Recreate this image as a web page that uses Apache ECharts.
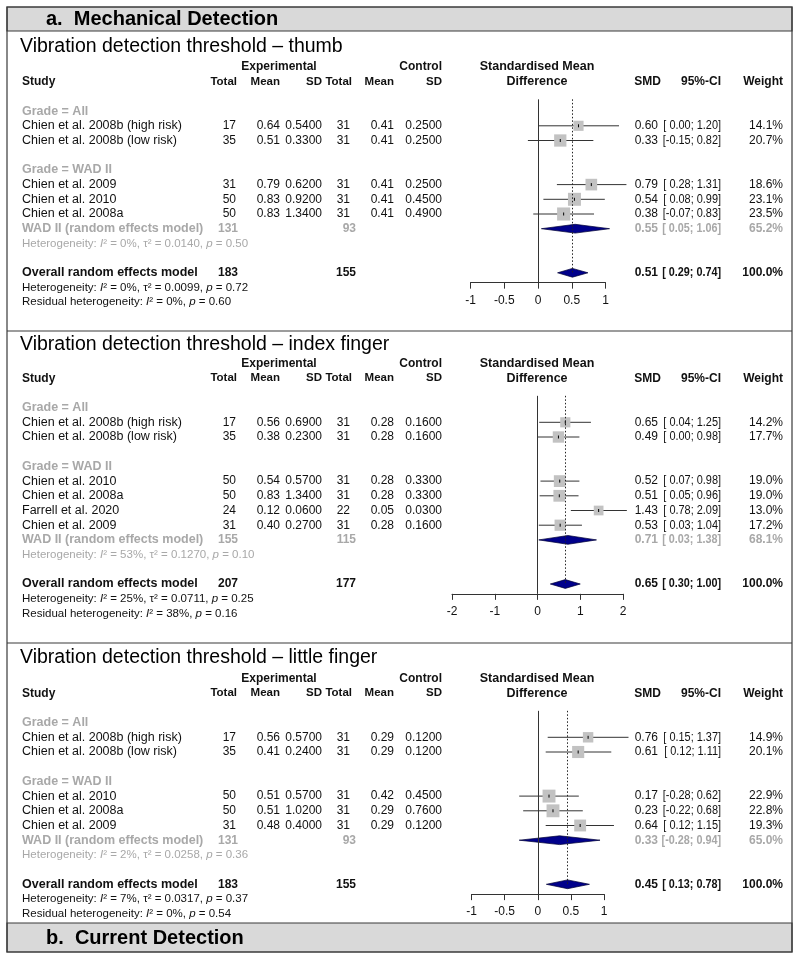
<!DOCTYPE html>
<html><head><meta charset="utf-8">
<script src="https://cdn.jsdelivr.net/npm/echarts@6/dist/echarts.min.js"></script>
<style>html,body{margin:0;padding:0;background:#fff}#c{width:800px;height:960px}</style>
</head><body><div id="c"></div>
<script>
// ---------------- DATA ----------------
const figureHeaders = ['a.  Mechanical Detection', 'b.  Current Detection'];
const panelTitles = ['Vibration detection threshold \u2013 thumb', 'Vibration detection threshold \u2013 index finger', 'Vibration detection threshold \u2013 little finger'];
const axisMin = [-1, -2, -1];
const axisMax = [1, 2, 1];
const axisStep = [0.5, 1, 0.5];

// Panel 1: thumb
const thumbStudies = ['Chien et al. 2008b (high risk)', 'Chien et al. 2008b (low risk)', 'Chien et al. 2009', 'Chien et al. 2010', 'Chien et al. 2008a'];
const thumbGrade = ['All', 'All', 'WAD II', 'WAD II', 'WAD II'];
const thumbExpN = [17, 35, 31, 50, 50];
const thumbExpMean = ['0.64', '0.51', '0.79', '0.83', '0.83'];
const thumbExpSD = ['0.5400', '0.3300', '0.6200', '0.9200', '1.3400'];
const thumbCtlN = [31, 31, 31, 31, 31];
const thumbCtlMean = ['0.41', '0.41', '0.41', '0.41', '0.41'];
const thumbCtlSD = ['0.2500', '0.2500', '0.2500', '0.4500', '0.4900'];
const thumbSMD = [0.60, 0.33, 0.79, 0.54, 0.38];
const thumbLower = [0.00, -0.15, 0.28, 0.08, -0.07];
const thumbUpper = [1.20, 0.82, 1.31, 0.99, 0.83];
const thumbWeight = [14.1, 20.7, 18.6, 23.1, 23.5];
const thumbSubgroup = [0.55, 0.05, 1.06, 65.2];
const thumbSubgroupN = [131, 93];
const thumbSubgroupHet = ['0%', '0.0140', '0.50'];
const thumbOverall = [0.51, 0.29, 0.74, 100.0];
const thumbOverallN = [183, 155];
const thumbOverallHet = ['0%', '0.0099', '0.72'];
const thumbResidual = ['0%', '0.60'];

// Panel 2: index finger
const indexStudies = ['Chien et al. 2008b (high risk)', 'Chien et al. 2008b (low risk)', 'Chien et al. 2010', 'Chien et al. 2008a', 'Farrell et al. 2020', 'Chien et al. 2009'];
const indexGrade = ['All', 'All', 'WAD II', 'WAD II', 'WAD II', 'WAD II'];
const indexExpN = [17, 35, 50, 50, 24, 31];
const indexExpMean = ['0.56', '0.38', '0.54', '0.83', '0.12', '0.40'];
const indexExpSD = ['0.6900', '0.2300', '0.5700', '1.3400', '0.0600', '0.2700'];
const indexCtlN = [31, 31, 31, 31, 22, 31];
const indexCtlMean = ['0.28', '0.28', '0.28', '0.28', '0.05', '0.28'];
const indexCtlSD = ['0.1600', '0.1600', '0.3300', '0.3300', '0.0300', '0.1600'];
const indexSMD = [0.65, 0.49, 0.52, 0.51, 1.43, 0.53];
const indexLower = [0.04, 0.00, 0.07, 0.05, 0.78, 0.03];
const indexUpper = [1.25, 0.98, 0.98, 0.96, 2.09, 1.04];
const indexWeight = [14.2, 17.7, 19.0, 19.0, 13.0, 17.2];
const indexSubgroup = [0.71, 0.03, 1.38, 68.1];
const indexSubgroupN = [155, 115];
const indexSubgroupHet = ['53%', '0.1270', '0.10'];
const indexOverall = [0.65, 0.30, 1.00, 100.0];
const indexOverallN = [207, 177];
const indexOverallHet = ['25%', '0.0711', '0.25'];
const indexResidual = ['38%', '0.16'];

// Panel 3: little finger
const littleStudies = ['Chien et al. 2008b (high risk)', 'Chien et al. 2008b (low risk)', 'Chien et al. 2010', 'Chien et al. 2008a', 'Chien et al. 2009'];
const littleGrade = ['All', 'All', 'WAD II', 'WAD II', 'WAD II'];
const littleExpN = [17, 35, 50, 50, 31];
const littleExpMean = ['0.56', '0.41', '0.51', '0.51', '0.48'];
const littleExpSD = ['0.5700', '0.2400', '0.5700', '1.0200', '0.4000'];
const littleCtlN = [31, 31, 31, 31, 31];
const littleCtlMean = ['0.29', '0.29', '0.42', '0.29', '0.29'];
const littleCtlSD = ['0.1200', '0.1200', '0.4500', '0.7600', '0.1200'];
const littleSMD = [0.76, 0.61, 0.17, 0.23, 0.64];
const littleLower = [0.15, 0.12, -0.28, -0.22, 0.12];
const littleUpper = [1.37, 1.11, 0.62, 0.68, 1.15];
const littleWeight = [14.9, 20.1, 22.9, 22.8, 19.3];
const littleSubgroup = [0.33, -0.28, 0.94, 65.0];
const littleSubgroupN = [131, 93];
const littleSubgroupHet = ['2%', '0.0258', '0.36'];
const littleOverall = [0.45, 0.13, 0.78, 100.0];
const littleOverallN = [183, 155];
const littleOverallHet = ['7%', '0.0317', '0.37'];
const littleResidual = ['0%', '0.54'];

// ---------------- LAYOUT ----------------
const FONT = '"Liberation Sans", Arial, Helvetica, sans-serif';
const ROW = 14.7;
const panelTop = [67, 363.5, 678.5];
const gridLeft = [470.5, 452, 471.5];
const gridWidth = [135, 171, 132.5];
const GRAY = '#a8a8a8';
const TXT = '#111';
const FSL = 12.5;   // study labels
const FSN = 12;     // numbers
const FSB = 12;     // headers
const FSC = 11.5;   // Total/Mean/SD headers
const FSH = 11.5;   // heterogeneity lines
const COL = {study: 22, expN: 238, expMean: 280, expSD: 322, ctlN: 352, ctlMean: 394, ctlSD: 442,
  exp: 279, ctl: 442, smdHead: 537, smd: 658, ci: 721, w: 783};

const panels = [
  {studies: thumbStudies, grade: thumbGrade, expN: thumbExpN, expMean: thumbExpMean, expSD: thumbExpSD, ctlN: thumbCtlN, ctlMean: thumbCtlMean, ctlSD: thumbCtlSD, smd: thumbSMD, lo: thumbLower, hi: thumbUpper, w: thumbWeight, sub: thumbSubgroup, subN: thumbSubgroupN, subHet: thumbSubgroupHet, ov: thumbOverall, ovN: thumbOverallN, ovHet: thumbOverallHet, res: thumbResidual},
  {studies: indexStudies, grade: indexGrade, expN: indexExpN, expMean: indexExpMean, expSD: indexExpSD, ctlN: indexCtlN, ctlMean: indexCtlMean, ctlSD: indexCtlSD, smd: indexSMD, lo: indexLower, hi: indexUpper, w: indexWeight, sub: indexSubgroup, subN: indexSubgroupN, subHet: indexSubgroupHet, ov: indexOverall, ovN: indexOverallN, ovHet: indexOverallHet, res: indexResidual},
  {studies: littleStudies, grade: littleGrade, expN: littleExpN, expMean: littleExpMean, expSD: littleExpSD, ctlN: littleCtlN, ctlMean: littleCtlMean, ctlSD: littleCtlSD, smd: littleSMD, lo: littleLower, hi: littleUpper, w: littleWeight, sub: littleSubgroup, subN: littleSubgroupN, subHet: littleSubgroupHet, ov: littleOverall, ovN: littleOverallN, ovHet: littleOverallHet, res: littleResidual}
];

function fmtCI(lo, hi) {
  const l = lo.toFixed(2);
  return '[' + (lo < 0 ? l : ' ' + l) + '; ' + hi.toFixed(2) + ']';
}
function richStyles(color, size) {
  return {
    n: {fill: color, fontSize: size, fontFamily: FONT},
    i: {fill: color, fontSize: size, fontFamily: FONT, fontStyle: 'italic'}
  };
}
function hetText(h) {
  return '{n|Heterogeneity: }{i|I}{n|\u00b2 = ' + h[0] + ', \u03c4\u00b2 = ' + h[1] + ', }{i|p}{n| = ' + h[2] + '}';
}
function resText(r) {
  return '{n|Residual heterogeneity: }{i|I}{n|\u00b2 = ' + r[0] + ', }{i|p}{n| = ' + r[1] + '}';
}

function buildPanel(P) {
  const texts = [];
  const marks = [];
  const T = (row, x, text, align, bold, color, size, extra) => texts.push(Object.assign({row, x, text, align, bold, color: color || TXT, size: size || FSN}, extra || {}));
  // headers
  T(0, COL.exp, 'Experimental', 'center', true, TXT, FSB);
  T(0, COL.ctl, 'Control', 'right', true, TXT, FSB);
  T(0, COL.smdHead, 'Standardised Mean', 'center', true, TXT, FSL);
  T(1, COL.study, 'Study', 'left', true, TXT, FSB);
  T(1, COL.expN - 1, 'Total', 'right', true, TXT, FSC);
  T(1, COL.expMean, 'Mean', 'right', true, TXT, FSC);
  T(1, COL.expSD, 'SD', 'right', true, TXT, FSC);
  T(1, COL.ctlN, 'Total', 'right', true, TXT, FSC);
  T(1, COL.ctlMean, 'Mean', 'right', true, TXT, FSC);
  T(1, COL.ctlSD, 'SD', 'right', true, TXT, FSC);
  T(1, COL.smdHead, 'Difference', 'center', true, TXT, FSL);
  T(1, COL.smd + 3, 'SMD', 'right', true, TXT, FSB);
  T(1, COL.ci, '95%-CI', 'right', true, TXT, FSB);
  T(1, COL.w, 'Weight', 'right', true, TXT, FSB);
  let row = 3;
  const study = (k) => {
    T(row, COL.study, P.studies[k], 'left', false, TXT, FSL);
    T(row, COL.expN - 2, String(P.expN[k]), 'right');
    T(row, COL.expMean, P.expMean[k], 'right');
    T(row, COL.expSD, P.expSD[k], 'right');
    T(row, COL.ctlN - 2, String(P.ctlN[k]), 'right');
    T(row, COL.ctlMean, P.ctlMean[k], 'right');
    T(row, COL.ctlSD, P.ctlSD[k], 'right');
    T(row, COL.smd, P.smd[k].toFixed(2), 'right');
    T(row, COL.ci, fmtCI(P.lo[k], P.hi[k]), 'right', false, TXT, FSN, {sx: 0.91});
    T(row, COL.w, P.w[k].toFixed(1) + '%', 'right');
    marks.push([P.smd[k], P.lo[k], P.hi[k], row, P.w[k], 0]);
    row++;
  };
  T(row++, COL.study, 'Grade = All', 'left', true, GRAY, FSL);
  P.grade.forEach((g, k) => { if (g === 'All') study(k); });
  row++;
  T(row++, COL.study, 'Grade = WAD II', 'left', true, GRAY, FSL);
  P.grade.forEach((g, k) => { if (g === 'WAD II') study(k); });
  // subgroup summary
  T(row, COL.study, 'WAD II (random effects model)', 'left', true, GRAY, FSL);
  T(row, COL.expN, String(P.subN[0]), 'right', true, GRAY);
  T(row, COL.ctlN + 4, String(P.subN[1]), 'right', true, GRAY);
  T(row, COL.smd, P.sub[0].toFixed(2), 'right', true, GRAY);
  T(row, COL.ci, fmtCI(P.sub[1], P.sub[2]), 'right', true, GRAY, FSN, {sx: 0.9});
  T(row, COL.w, P.sub[3].toFixed(1) + '%', 'right', true, GRAY);
  marks.push([P.sub[0], P.sub[1], P.sub[2], row, P.sub[3], 1]);
  row++;
  T(row++, COL.study, hetText(P.subHet), 'left', false, GRAY, FSH, {rich: richStyles(GRAY, FSH)});
  row++;
  const overallRow = row;
  T(row, COL.study, 'Overall random effects model', 'left', true, TXT, FSL);
  T(row, COL.expN, String(P.ovN[0]), 'right', true);
  T(row, COL.ctlN + 4, String(P.ovN[1]), 'right', true);
  T(row, COL.smd, P.ov[0].toFixed(2), 'right', true);
  T(row, COL.ci, fmtCI(P.ov[1], P.ov[2]), 'right', true, TXT, FSN, {sx: 0.9});
  T(row, COL.w, P.ov[3].toFixed(1) + '%', 'right', true);
  marks.push([P.ov[0], P.ov[1], P.ov[2], row, P.ov[3], 2]);
  row++;
  T(row++, COL.study, hetText(P.ovHet), 'left', false, TXT, FSH, {rich: richStyles(TXT, FSH)});
  T(row++, COL.study, resText(P.res), 'left', false, TXT, FSH, {rich: richStyles(TXT, FSH)});
  return {texts, marks, overallRow};
}

const built = panels.map(buildPanel);

const grids = [], xAxes = [], yAxes = [], series = [];
built.forEach((B, i) => {
  const axisRow = B.overallRow + 0.67;
  grids.push({left: gridLeft[i], width: gridWidth[i], top: panelTop[i], height: axisRow * ROW, outerBoundsMode: 'none', containLabel: false});
  xAxes.push({type: 'value', gridIndex: i, min: axisMin[i], max: axisMax[i], interval: axisStep[i], position: 'bottom',
    axisLine: {show: true, onZero: false, lineStyle: {color: '#333', width: 1}},
    axisTick: {show: true, length: 6, inside: false, lineStyle: {color: '#333', width: 1}},
    axisLabel: {show: true, margin: 12, color: '#111', fontSize: FSN, fontFamily: FONT, showMinLabel: true, showMaxLabel: true},
    splitLine: {show: false}});
  yAxes.push({type: 'value', gridIndex: i, min: 0, max: axisRow, inverse: true, show: false, splitLine: {show: false}});
  const zeroTop = 2.2;
  const ov = B.marks[B.marks.length - 1][0];
  series.push({
    type: 'custom', xAxisIndex: i, yAxisIndex: i, clip: false, silent: true, z: 3,
    data: B.marks,
    renderItem: function (params, api) {
      const est = api.value(0), lo = api.value(1), hi = api.value(2), r = api.value(3), w = api.value(4), kind = api.value(5);
      const c = api.coord([est, r]), l = api.coord([lo, r]), h = api.coord([hi, r]);
      if (kind === 0) {
        const side = 2.7 * Math.sqrt(w);
        return {type: 'group', children: [
          {type: 'line', shape: {x1: l[0], y1: c[1], x2: h[0], y2: c[1]}, style: {stroke: '#333', lineWidth: 1}},
          {type: 'rect', shape: {x: c[0] - side / 2, y: c[1] - side / 2, width: side, height: side}, style: {fill: '#c2c2c2'}},
          {type: 'line', shape: {x1: c[0], y1: c[1] - 1.5, x2: c[0], y2: c[1] + 1.5}, style: {stroke: '#000', lineWidth: 1}}
        ]};
      }
      const hh = 4.4;
      return {type: 'polygon', shape: {points: [[l[0], c[1]], [c[0], c[1] - hh], [h[0], c[1]], [c[0], c[1] + hh]]},
        style: {fill: '#00008b', stroke: '#000033', lineWidth: 0.7}};
    },
    markLine: {silent: true, symbol: ['none', 'none'], label: {show: false}, animation: false, z: 4,
      data: [
        [{coord: [0, zeroTop], lineStyle: {color: '#333', width: 1, type: 'solid'}}, {coord: [0, axisRow]}],
        [{coord: [ov, zeroTop], lineStyle: {color: '#222', width: 1, type: [1.5, 2]}}, {coord: [ov, B.overallRow]}]
      ]}
  });
  series.push({
    type: 'custom', xAxisIndex: i, yAxisIndex: i, clip: false, silent: true, z: 5,
    data: B.texts.map(t => [0, t.row]),
    renderItem: function (params, api) {
      const t = B.texts[params.dataIndex];
      const y = api.coord([0, api.value(1)])[1];
      const style = {text: t.text, fill: t.color, fontSize: t.size, fontFamily: FONT, fontWeight: t.bold ? 'bold' : 'normal',
        align: t.align, verticalAlign: 'middle'};
      if (t.rich) style.rich = t.rich;
      const el = {type: 'text', x: t.x, y: y, style: style};
      if (t.sx) { el.scaleX = t.sx; }
      return el;
    }
  });
});

const graphic = [
  {type: 'rect', shape: {x: 7, y: 7, width: 785, height: 24}, style: {fill: '#d9d9d9', stroke: '#3a3a3a', lineWidth: 1.2}, z: 0},
  {type: 'rect', shape: {x: 7, y: 923, width: 785, height: 29}, style: {fill: '#d9d9d9', stroke: '#3a3a3a', lineWidth: 1.2}, z: 0},
  {type: 'rect', shape: {x: 7, y: 7, width: 785, height: 945}, style: {fill: 'none', stroke: '#3a3a3a', lineWidth: 1.2}, z: 1},
  {type: 'line', shape: {x1: 7, y1: 331, x2: 792, y2: 331}, style: {stroke: '#3a3a3a', lineWidth: 1.2}},
  {type: 'line', shape: {x1: 7, y1: 643, x2: 792, y2: 643}, style: {stroke: '#3a3a3a', lineWidth: 1.2}},
  {type: 'text', x: 46, y: 19.5, style: {text: figureHeaders[0], fill: '#000', font: 'bold 20px ' + FONT, verticalAlign: 'middle'}, z: 2},
  {type: 'text', x: 46, y: 938, style: {text: figureHeaders[1], fill: '#000', font: 'bold 20px ' + FONT, verticalAlign: 'middle'}, z: 2},
  {type: 'text', x: 20, y: 47, style: {text: panelTitles[0], fill: '#000', font: '19.5px ' + FONT, verticalAlign: 'middle'}},
  {type: 'text', x: 20, y: 345, style: {text: panelTitles[1], fill: '#000', font: '19.5px ' + FONT, verticalAlign: 'middle'}},
  {type: 'text', x: 20, y: 658, style: {text: panelTitles[2], fill: '#000', font: '19.5px ' + FONT, verticalAlign: 'middle'}}
];

const chart = echarts.init(document.getElementById('c'), null, {renderer: 'canvas'});
chart.setOption({
  animation: false,
  backgroundColor: '#fff',
  textStyle: {fontFamily: FONT},
  grid: grids, xAxis: xAxes, yAxis: yAxes, series: series, graphic: graphic
});
</script></body></html>
